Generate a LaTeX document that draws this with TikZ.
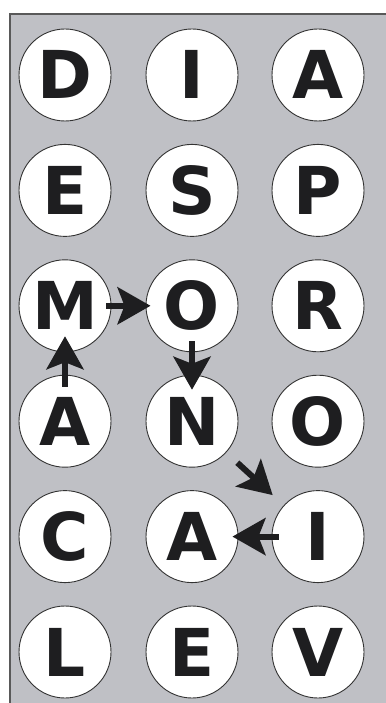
\documentclass[tikz,border=0pt]{standalone}
\usepackage{fontspec}
\setmainfont{DejaVu Sans}
\usetikzlibrary{arrows.meta}
\definecolor{boardgray}{RGB}{191,192,197}
\definecolor{inkdark}{RGB}{30,30,32}

\begin{document}
\begin{tikzpicture}[
  x=1pt, y=-1pt,
  tile/.style={circle, draw=black!80, line width=0.9pt, fill=white,
               minimum size=92pt, inner sep=0pt, text=inkdark,
               font=\fontsize{66}{66}\selectfont\bfseries,
               text height=48pt, text depth=0pt},
  move/.style={-{Stealth[length=33pt, width=37pt, inset=7pt]}, line width=6pt, inkdark}
]
\useasboundingbox (0,0) rectangle (385,703);

%--- Board ---
\fill[boardgray] (10,14) rectangle (392,712);
\draw[black!65, line width=1.5pt] (10,712) -- (10,14) -- (392,14);

%--- Letter tiles ---
\foreach \row/\a/\b/\c in {1/D/I/A, 2/E/S/P, 3/M/O/R, 4/A/N/O, 5/C/A/I, 6/L/E/V} {
  \node[tile] (n\row1) at (65,  {75+115.4*(\row-1)}) {\a};
  \node[tile] (n\row2) at (192, {75+115.4*(\row-1)}) {\b};
  \node[tile] (n\row3) at (318, {75+115.4*(\row-1)}) {\c};
}

%--- Path of the word ---
\draw[move, shorten <=-12pt, shorten >=-16pt] (n41) -- (n31);
\draw[move, shorten <=-5pt, shorten >=-5pt] (n31) -- (n32);
\draw[move, shorten <=-11pt, shorten >=-15pt] (n32) -- (n42);
\draw[move, shorten <=15pt, shorten >=15pt] (n42) -- (n53);
\draw[move, shorten <=-7pt, shorten >=-6pt] (n53) -- (n52);

\end{tikzpicture}
\end{document}
